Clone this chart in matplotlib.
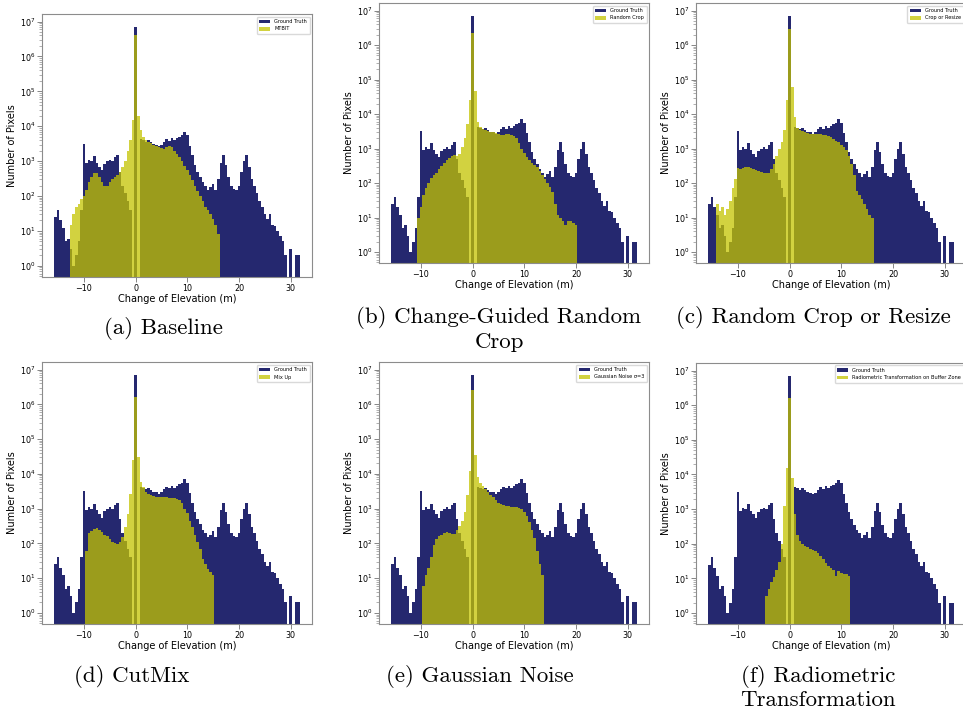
#%%
####################################################################################################################################
# LIBRARIES
####################################################################################################################################
import numpy as np
import matplotlib
matplotlib.use("Agg")
import matplotlib.pyplot as plt


#%%
####################################################################################################################################
# DATA (bar heights, 0.5 m bins)
####################################################################################################################################
bin_width = 0.5

# Ground truth, first bin centred on -15.5 m
gt_start = -15.5
ground_truth = [25, 40, 20, 12, 5, 6, 3, 1, 2, 5, 40, 3200, 900, 1100, 1000, 1400, 900, 700, 550, 850, 1000, 1100, 1000, 1300,
                1500, 500, 200, 120, 70, 40, 0,
                7000000,
                0, 4200, 4000, 3600, 4000, 3500, 3100, 3000, 2700, 3000, 3600, 4200, 3800, 4500, 4000, 4600, 5000, 5500, 7000,
                5500, 2800, 1500, 800, 500, 350, 250, 200, 150, 180, 220, 150, 300, 900, 1500, 800, 350, 200, 160, 150, 200,
                500, 1000, 1500, 700, 300, 200, 120, 70, 50, 30, 22, 30, 15, 14, 10, 7, 5, 2, 0, 3, 0, 2, 2]

mtbit_start = -12.5
mtbit = [15, 30, 50, 60, 80, 100, 150, 250, 350, 450, 450, 350, 250, 200, 200, 250, 300, 350, 400, 500, 700, 1000, 2000,
         4000, 15000,
         4000000,
         20000, 8000, 5000, 4000, 3600, 3300, 3000, 2800, 2600, 2400, 2300, 2500, 2800, 2600, 2000, 1600, 1300, 1000, 750,
         550, 400, 290, 200, 140, 100, 70, 50, 40, 30, 22, 15, 8]

random_crop_start = -10.5
random_crop = [10, 20, 45, 70, 100, 140, 170, 200, 250, 320, 380, 450, 520, 600, 650, 600, 700, 1100, 2000, 5000, 25000,
               2300000,
               45000, 6000, 4200, 3700, 3400, 3200, 3000, 3000, 2800, 2600, 2400, 2500, 2700, 2700, 2500, 2300, 2000, 1400,
               1000, 750, 550, 450, 380, 330, 300, 220, 170, 130, 100, 75, 55, 25, 12, 10, 8, 6, 8, 8, 7, 6]

crop_resize_start = -14.0
crop_resize = [25, 15, 20, 12, 18, 30, 70, 130, 280, 260, 280, 290, 290, 280, 260, 240, 220, 210, 200, 190, 200, 250, 350,
               600, 1000, 1500, 3500, 25000,
               3000000,
               60000, 8000, 4000, 3500, 3200, 3000, 2800, 2600, 2600, 2600, 2600, 2600, 2500, 2400, 2300, 2100, 1900, 1700,
               1500, 1300, 1100, 900, 600, 350, 170, 60, 45, 35, 25, 18, 12, 10]

mix_up_start = -9.5
mix_up = [60, 200, 220, 260, 280, 250, 210, 180, 160, 130, 110, 100, 95, 110, 150, 300, 700, 2700, 25000,
          1600000,
          30000, 6000, 4200, 3000, 2600, 2400, 2300, 2200, 2100, 2100, 2100, 2100, 2000, 2000, 2000, 1900, 1800, 1500, 1000,
          750, 450, 300, 180, 110, 70, 35, 25, 18, 15, 12]

gauss_start = -9.5
gauss_noise = [6, 12, 20, 40, 90, 130, 160, 180, 200, 210, 200, 190, 190, 250, 320, 450, 800, 2500, 12000,
               2500000,
               35000, 8000, 5500, 4500, 3600, 3000, 2500, 2100, 1800, 1500, 1350, 1250, 1200, 1200, 1150, 1100, 1100, 1050,
               950, 800, 600, 400, 250, 140, 60, 25, 12]

radio_start = -4.5
radiometric = [3, 5, 8, 11, 17, 30, 100, 1200, 15000,
               1600000,
               8000, 700, 180, 120, 100, 85, 80, 70, 65, 60, 55, 45, 35, 28, 22, 20, 17, 12, 16, 14, 13, 13, 12]

pred_labels = ["MTBIT", "Random Crop", "Crop or Resize", "Mix Up", "Gaussian Noise \u03c3=3",
               "Radiometric Transformation on Buffer Zone"]
# one list of lines per sub-caption
captions = [["(a) Baseline"], ["(b) Change-Guided Random", "Crop"], ["(c) Random Crop or Resize"], ["(d) CutMix"],
            ["(e) Gaussian Noise"], ["(f) Radiometric", "Transformation"]]

x_ticks = [-10, 0, 10, 20, 30]
y_ticks = [1e0, 1e1, 1e2, 1e3, 1e4, 1e5, 1e6, 1e7]


#%%
####################################################################################################################################
# FUNCTIONS
####################################################################################################################################
def centres(start, counts):
    return start + bin_width * np.arange(len(counts))


def draw_panel(ax, pred_start, pred, label, edges):
    ax.hist(centres(gt_start, ground_truth), bins=edges, weights=ground_truth, color="#25286f", log=True,
            label="Ground Truth")
    ax.hist(centres(pred_start, pred), bins=edges, weights=pred, color="#c4c400", alpha=0.75, log=True, label=label)
    ax.set_ylim(0.48, 1.65e7)
    ax.set_xticks(x_ticks)
    ax.set_yticks(y_ticks)   # fixed list, so no labels sit outside the axes
    ax.set_xlabel("Change of Elevation (m)", fontsize=7, labelpad=1)
    ax.set_ylabel("Number of Pixels", fontsize=7, labelpad=2)
    ax.tick_params(labelsize=5.8, color="0.45", width=0.6, pad=1.5)
    ax.tick_params(which="minor", color="0.45", width=0.4)
    for sp in ax.spines.values():
        sp.set_color("0.55")
        sp.set_linewidth(0.8)
    ax.legend(loc="upper right", fontsize=3.6, handlelength=2.2, borderpad=0.5, framealpha=1, edgecolor="0.85")


#%%
####################################################################################################################################
# MAIN
####################################################################################################################################
def main():
    W, H = 963, 713
    fig = plt.figure(figsize=(W / 100, H / 100), dpi=100)

    edges = gt_start - bin_width / 2 + bin_width * np.arange(len(ground_truth) + 1)

    # axes boxes in pixels: left, top, right, bottom
    boxes = [(42, 14, 312, 277), (379, 3, 649, 263), (696, 3, 966, 263),
             (42, 362, 312, 624), (379, 362, 649, 624), (696, 363, 966, 624)]
    preds = [(mtbit_start, mtbit), (random_crop_start, random_crop), (crop_resize_start, crop_resize),
             (mix_up_start, mix_up), (gauss_start, gauss_noise), (radio_start, radiometric)]
    # caption centre (x, y of first line) in pixels
    cap_pos = [(163, 328), (499, 318), (813, 318), (132, 676), (480, 676), (818, 676)]

    for i in range(6):
        l, t, r, b = boxes[i]
        ax = fig.add_axes([l / W, 1 - b / H, (r - l) / W, (b - t) / H])
        draw_panel(ax, preds[i][0], preds[i][1], pred_labels[i], edges)
        cx, cy = cap_pos[i]
        for k, line in enumerate(captions[i]):
            fig.text(cx / W, 1 - (cy + 24 * k) / H, line, ha="center", va="center", fontsize=16.5, family="cmr10")

    fig.savefig("out.png", dpi=100)


if __name__ == "__main__":
    main()
